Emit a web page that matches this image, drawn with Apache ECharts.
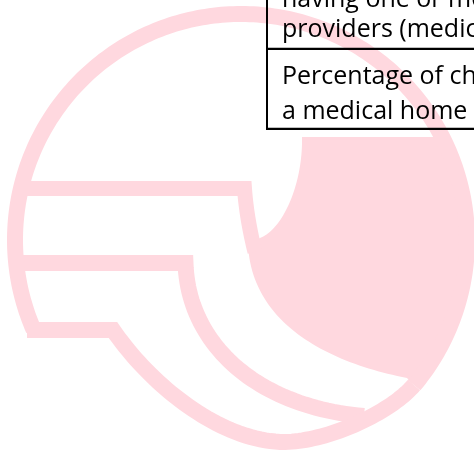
<!DOCTYPE html>
<html>
<head>
<meta charset="utf-8">
<script src="https://cdn.jsdelivr.net/npm/echarts@6/dist/echarts.min.js"></script>
<style>
  html, body { margin: 0; padding: 0; background: #fff; }
  #chart { width: 474px; height: 454px; }
</style>
</head>
<body>
<div id="chart"></div>
<script>
// Table text (two cells of a table fragment)
const cellOneLines = ["having one or more personal doctors or health care", "providers (medical home)"];
const cellTwoLines = ["Percentage of children having", "a medical home"];

const PINK = '#FFD8DF';

function bez(p0, p1, p2, p3, n) {
  const out = [];
  for (let i = 0; i <= n; i++) {
    const t = i / n, u = 1 - t;
    out.push([
      u*u*u*p0[0] + 3*u*u*t*p1[0] + 3*u*t*t*p2[0] + t*t*t*p3[0],
      u*u*u*p0[1] + 3*u*u*t*p1[1] + 3*u*t*t*p2[1] + t*t*t*p3[1]
    ]);
  }
  return out;
}
function arcPts(cx, cy, r, a0, a1, n) {
  const out = [];
  for (let i = 0; i <= n; i++) {
    const a = a0 + (a1 - a0) * i / n;
    out.push([cx + r * Math.cos(a), cy + r * Math.sin(a)]);
  }
  return out;
}

const CX = 241, CY = 240;
const ringPts = arcPts(CX, CY, 226, 2.732, 0.698 + Math.PI * 2, 240);
const band3Pts = [[27, 330], [113, 330]]
  .concat(bez([113, 330], [150, 384], [220, 442], [285, 442], 40).slice(1))
  .concat(bez([285, 442], [330, 441], [391.5, 411.8], [414, 385], 40).slice(1));
const band2Pts = [[18, 263], [185.5, 263]]
  .concat(bez([185.5, 263], [188, 345], [258, 407], [364, 416], 50).slice(1));
const band1Pts = [[22, 188.5], [244.5, 188.5]]
  .concat(bez([244.5, 188.5], [246, 210], [250, 232], [255, 252], 20).slice(1));
const a0 = Math.atan2(137 - CY, 438 - CX);
const fillPts = [[302, 137], [438, 137]]
  .concat(arcPts(CX, CY, 222, a0, 0.698, 60).slice(1))
  .concat([[407, 378]])
  .concat(bez([407, 378], [325, 362], [252, 322], [248, 245], 50).slice(1))
  .concat([[260, 238]])
  .concat(bez([260, 238], [282, 230], [303, 185], [302, 137], 40).slice(1));

const elements = [
  { type: 'polygon', shape: { points: fillPts }, style: { fill: PINK, stroke: null } },
  { type: 'polyline', shape: { points: band2Pts }, style: { stroke: PINK, lineWidth: 16, fill: null, lineJoin: 'miter' } },
  { type: 'polyline', shape: { points: ringPts }, style: { stroke: PINK, lineWidth: 16, fill: null } },
  { type: 'polyline', shape: { points: band3Pts }, style: { stroke: PINK, lineWidth: 16, fill: null, lineJoin: 'miter' } },
  { type: 'polyline', shape: { points: band1Pts }, style: { stroke: PINK, lineWidth: 15, fill: null, lineJoin: 'miter' } },
  // table borders
  { type: 'line', z: 10, shape: { x1: 267, y1: 0, x2: 267, y2: 130 }, style: { stroke: '#000', lineWidth: 2 } },
  { type: 'line', z: 10, shape: { x1: 266, y1: 48.8, x2: 474, y2: 48.8 }, style: { stroke: '#000', lineWidth: 2.2 } },
  { type: 'line', z: 10, shape: { x1: 266, y1: 128.8, x2: 474, y2: 128.8 }, style: { stroke: '#000', lineWidth: 2.2 } }
];

const FONT = '25px "Open Sans"';
const lineMiddles = [0, 30, 77, 112];
const allLines = cellOneLines.concat(cellTwoLines);
allLines.forEach(function (txt, i) {
  elements.push({
    type: 'text', z: 10, x: 282, y: lineMiddles[i],
    style: { text: txt, fill: '#000', font: FONT, align: 'left', verticalAlign: 'middle' }
  });
});

const chart = echarts.init(document.getElementById('chart'), null, { renderer: 'canvas' });
chart.setOption({
  backgroundColor: '#ffffff',
  animation: false,
  graphic: { elements: elements }
});
</script>
</body>
</html>
